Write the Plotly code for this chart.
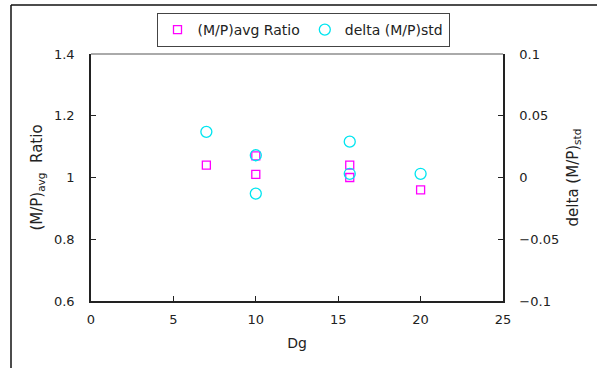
import plotly.graph_objects as go

dg_ratio = [7, 10, 10, 15.7, 15.7, 20]
ratio = [1.04, 1.07, 1.01, 1.04, 1.0, 0.96]
dg_std = [7, 10, 10, 15.7, 15.7, 20]
delta_std = [0.037, 0.018, -0.013, 0.029, 0.003, 0.003]

W, H = 597, 368
L, R, T, B = 91, 94, 54, 67
pw, ph = W - L - R, H - T - B

font = dict(family="DejaVu Sans, Liberation Sans, sans-serif", size=13, color="#222")
tfont = dict(family="DejaVu Sans, Liberation Sans, sans-serif", size=15, color="#222")

fig = go.Figure()
fig.add_trace(go.Scatter(x=dg_ratio, y=ratio, mode="markers", name="(M/P)avg Ratio",
                         marker=dict(symbol="square-open", size=8, color="#ff00ff", line=dict(width=1.3))))
fig.add_trace(go.Scatter(x=dg_std, y=delta_std, mode="markers", name="delta (M/P)std", yaxis="y2",
                         marker=dict(symbol="circle-open", size=11, color="#00e5f0", line=dict(width=1.3))))

fig.update_layout(
    width=W, height=H, margin=dict(l=L, r=R, t=T, b=B, autoexpand=False),
    paper_bgcolor="white", plot_bgcolor="white", font=font,
    xaxis=dict(range=[0, 25], dtick=5, ticks="inside", ticklen=5, tickcolor="#222",
               showline=True, linecolor="#222", linewidth=1.5, showgrid=False, zeroline=False,
               title=dict(text="Dg", standoff=12, font=dict(size=14)), ticklabelstandoff=6,
               automargin=False),
    yaxis=dict(range=[0.6, 1.4], dtick=0.2, ticks="inside", ticklen=5, tickcolor="#222",
               showline=True, linecolor="#222", linewidth=1.5, showgrid=False, zeroline=False,
               title=dict(text="(M/P)<sub>avg</sub>  Ratio", standoff=8, font=tfont),
               ticklabelstandoff=12, automargin=False),
    yaxis2=dict(range=[-0.1, 0.1], dtick=0.05, ticks="inside", ticklen=5, tickcolor="#222",
                overlaying="y", side="right", showline=True, linecolor="#222", linewidth=1.5,
                showgrid=False, zeroline=False,
                title=dict(text="delta (M/P)<sub>std</sub>", standoff=9, font=tfont),
                ticklabelstandoff=12, automargin=False),
    legend=dict(orientation="h", x=(303 - L) / pw, xanchor="center", y=1 + (T - 13) / ph, yanchor="top",
                bordercolor="#444", borderwidth=1, bgcolor="white",
                font=dict(family="DejaVu Sans, sans-serif", size=14, color="#222"),
                itemwidth=30, tracegroupgap=0),
    showlegend=True,
)

fig.add_shape(type="line", xref="paper", yref="paper", x0=0, x1=1, y0=1, y1=1,
              line=dict(color="#aaaaaa", width=2))
fig.add_shape(type="line", xref="paper", yref="paper", x0=(11 - L) / pw, x1=(11 - L) / pw,
              y0=1 + (T - 5) / ph, y1=-(B + 5) / ph, line=dict(color="#111", width=1.5))
fig.add_shape(type="line", xref="paper", yref="paper", x0=(11 - L) / pw, x1=(W + 5 - L) / pw,
              y0=1 + (T - 5) / ph, y1=1 + (T - 5) / ph, line=dict(color="#111", width=1.5))

fig.write_html("out.html", config={"displayModeBar": False},
               post_script="document.body.style.margin='0';document.body.style.overflow='hidden';")
